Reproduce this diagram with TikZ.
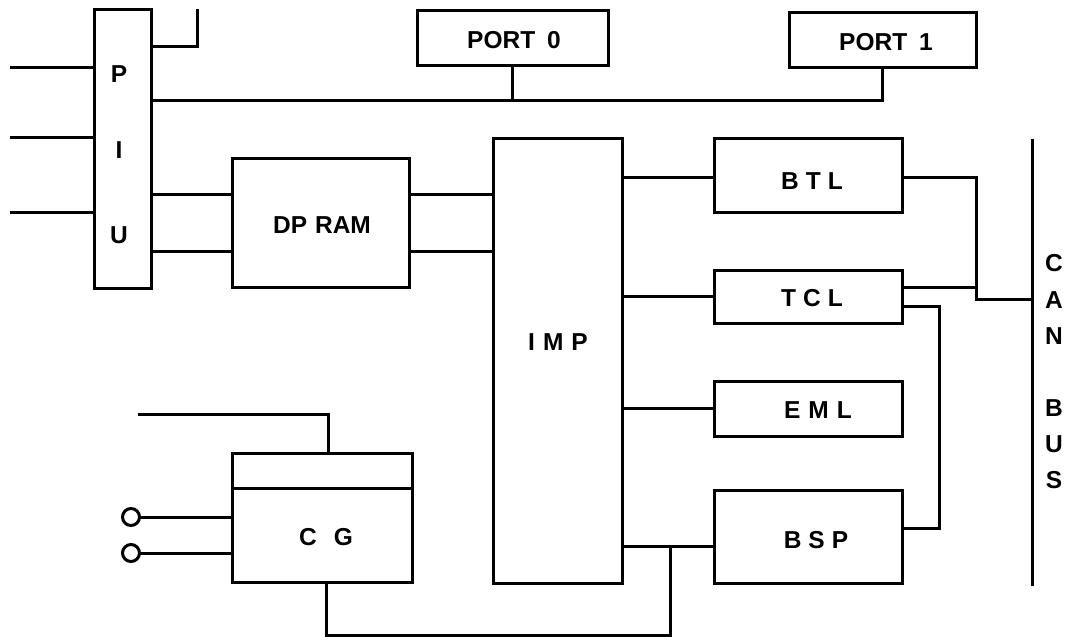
\documentclass[tikz,border=0pt]{standalone}
\usepackage{fontspec}
\setmainfont{Liberation Sans}
\begin{document}
\begin{tikzpicture}[x=1pt,y=-1pt,line width=3pt,
  box/.style={draw,line width=3pt,inner sep=0pt,outer sep=0pt,rectangle},
  lbl/.style={inner sep=0pt,font=\fontsize{24.5}{24.5}\selectfont\bfseries},
  term/.style={draw,circle,line width=3pt,inner sep=0pt,outer sep=0pt,minimum size=17pt}]
\useasboundingbox[fill=white] (0,0) rectangle (1068,637);
% boxes
\node[box,minimum width=57pt,minimum height=279pt] (piu) at (122.5,148.5) {};
\node[box,minimum width=191pt,minimum height=55pt] (port0) at (512.5,37.5) {};
\node[box,minimum width=187pt,minimum height=55pt] (port1) at (882.5,39.5) {};
\node[box,minimum width=177pt,minimum height=129pt] (dpram) at (320.5,222.5) {};
\node[box,minimum width=129pt,minimum height=445pt] (imp) at (557.5,360.5) {};
\node[box,minimum width=188pt,minimum height=74pt] (btl) at (808,175) {};
\node[box,minimum width=188pt,minimum height=53pt] (tcl) at (808,296.5) {};
\node[box,minimum width=188pt,minimum height=55pt] (eml) at (808,408.5) {};
\node[box,minimum width=188pt,minimum height=93pt] (bsp) at (808,536.5) {};
\node[box,minimum width=180pt,minimum height=129pt] (cg) at (322,517.5) {};
\node[term] (o1) at (131,517) {};
\node[term] (o2) at (131,553) {};
% labels
\node[lbl] (tP) at (119,74) {P};
\node[lbl] (tI) at (119,150) {I};
\node[lbl] (tU) at (119,235) {U};
\node[lbl] (tport0) at (514,40) {PORT\hspace{12pt}0};
\node[lbl] (tport1) at (886,42) {PORT\hspace{12pt}1};
\node[lbl] (tdpram) at (322,225) {DP\hspace{8pt}RAM};
\node[lbl] (timp) at (558,342) {I\hspace{8pt}M\hspace{8pt}P};
\node[lbl] (tbtl) at (812,181) {B\hspace{7pt}T\hspace{7pt}L};
\node[lbl] (ttcl) at (812,298) {T\hspace{7pt}C\hspace{7pt}L};
\node[lbl] (teml) at (818,410) {E\hspace{8pt}M\hspace{8pt}L};
\node[lbl] (tbsp) at (816,540) {B\hspace{7pt}S\hspace{7pt}P};
\node[lbl] (tcg) at (326,537) {C\hspace{17pt}G};
\foreach \l/\y [count=\i] in {C/263,A/300,N/336,B/408,U/444,S/480}
  \node[lbl] (can\i) at (1054,\y) {\l};
% free ends
\coordinate (in1) at (10,67);
\coordinate (in2) at (10,137);
\coordinate (in3) at (10,212);
\coordinate (topend) at (197,9);
\coordinate (cgin) at (138,414);
\coordinate (cantop) at (1032,139);
\coordinate (canbot) at (1032,586);
% connectors
\draw (in1) -- (piu.west |- in1);
\draw (in2) -- (piu.west |- in2);
\draw (in3) -- (piu.west |- in3);
\draw (piu.east |- 0,46) -| (topend);
\draw (piu.east |- 0,100) -| (port1.south);
\draw (port0.south) -- (port0.south |- 0,100);
\draw (piu.east |- 0,194) -- (dpram.west |- 0,194);
\draw (piu.east |- 0,251) -- (dpram.west |- 0,251);
\draw (dpram.east |- 0,194) -- (imp.west |- 0,194);
\draw (dpram.east |- 0,251) -- (imp.west |- 0,251);
\draw (imp.east |- 0,177) -- (btl.west |- 0,177);
\draw (imp.east |- tcl.west) -- (tcl.west);
\draw (imp.east |- eml.west) -- (eml.west);
\draw (imp.east |- 0,546) -- (bsp.west |- 0,546);
\draw (cantop) -- (canbot);
\draw (btl.east |- 0,177) -| (976,299) -- (cantop |- 0,299);
\draw (tcl.east |- 0,287) -- (976,287);
\draw (tcl.east |- 0,306) -- (939,306) |- (bsp.east |- 0,528);
\draw (670,546) |- (326,635) -- (cg.south -| 326,0);
\draw (cgin) -| (cg.north -| 328,0);
\draw (cg.west |- 0,488) -- (cg.east |- 0,488);
\draw (o1) -- (cg.west |- o1);
\draw (o2) -- (cg.west |- o2);
\end{tikzpicture}
\end{document}
